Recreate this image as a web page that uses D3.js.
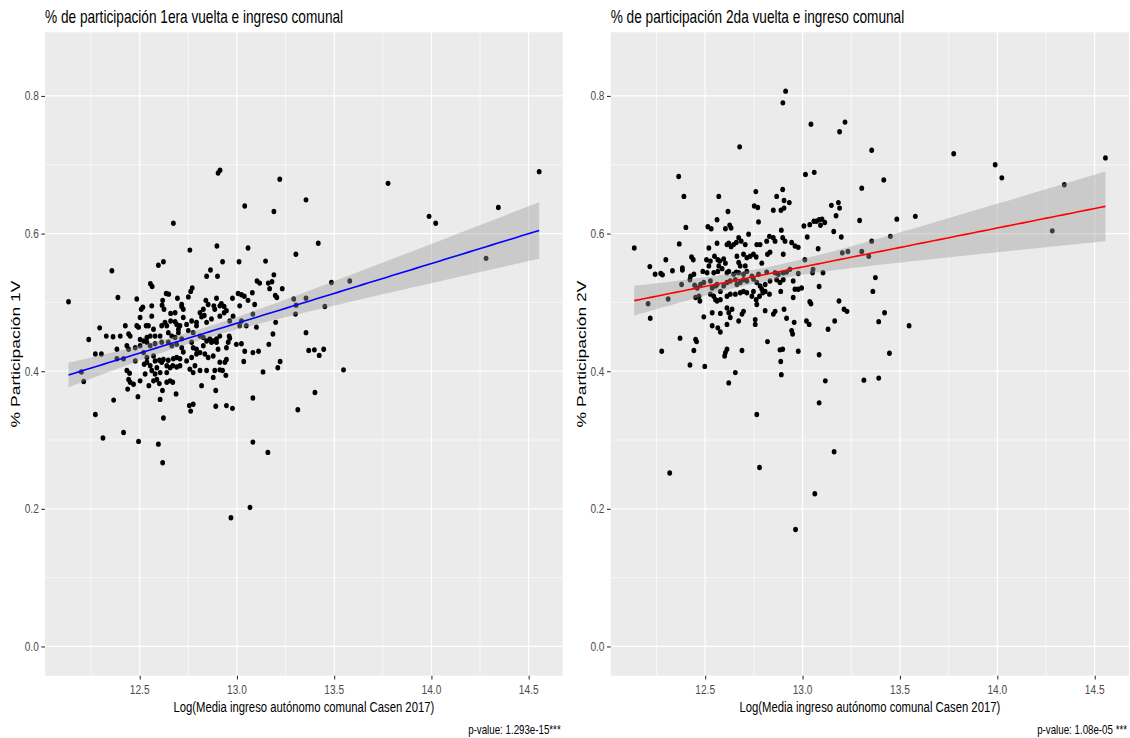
<!DOCTYPE html>
<html><head><meta charset="utf-8">
<script src="https://cdn.jsdelivr.net/npm/d3@7"></script>
<style>
body{margin:0;background:#fff}
text{font-family:"Liberation Sans",Arial,sans-serif}
</style>
</head><body>
<svg id="chart" width="1130" height="738"></svg>
<script>
const titles = ["% de participación 1era vuelta e ingreso comunal", "% de participación 2da vuelta e ingreso comunal"];
const yTitles = ["% Participación 1V", "% Participación 2V"];
const xTitle = "Log(Media ingreso autónomo comunal Casen 2017)";
const captions = ["p-value: 1.293e-15***", "p-value: 1.08e-05 ***"];
const lineColors = ["#0000FF", "#FF0000"];
const xTicks = [12.5, 13.0, 13.5, 14.0, 14.5];
const xMinor = [12.25, 12.75, 13.25, 13.75, 14.25];
const yTicks = [0.0, 0.2, 0.4, 0.6, 0.8];
const yMinor = [0.1, 0.3, 0.5, 0.7];
const yLimits = [0, 0.85];

// [log income, participation 1st round]
const points1V = [
[13.040,0.640],[13.190,0.632],[13.355,0.649],[12.673,0.615],
[12.758,0.576],[12.897,0.582],[13.057,0.579],[13.303,0.570],[12.596,0.554],[12.622,0.559],[12.926,0.559],[13.011,0.559],[13.147,0.560],[12.357,0.546],[12.864,0.547],
[12.844,0.538],[12.900,0.538],[13.103,0.531],[13.117,0.528],[13.190,0.540],[13.161,0.528],[13.180,0.530],[13.168,0.520],[13.233,0.520],[12.555,0.527],[12.564,0.523],[12.770,0.521],[12.762,0.516],[12.388,0.507],[12.485,0.505],[12.636,0.513],[12.649,0.512],[12.618,0.503],[12.694,0.506],[12.750,0.508],[12.840,0.503],[12.895,0.506],[12.977,0.506],[13.006,0.513],[13.023,0.511],[13.038,0.509],[13.079,0.514],[13.057,0.503],[13.197,0.510],[13.205,0.507],[13.292,0.505],[13.355,0.506],[12.134,0.501],[12.615,0.496],[12.716,0.497],[12.920,0.498],[12.852,0.497],[12.934,0.494],[13.014,0.495],[13.091,0.497],
[12.508,0.490],[12.516,0.493],[12.562,0.495],[12.625,0.490],[12.659,0.484],[12.682,0.485],[12.716,0.494],[12.724,0.490],[12.659,0.473],[12.682,0.472],[12.690,0.468],[12.630,0.471],[12.613,0.466],[12.639,0.466],[12.562,0.480],[12.502,0.478],[12.533,0.466],[12.545,0.466],[12.571,0.461],[12.810,0.485],[12.827,0.490],[12.818,0.479],[12.832,0.481],[12.886,0.490],[12.881,0.495],[12.912,0.495],[12.934,0.485],[12.946,0.488],[12.912,0.480],[12.963,0.473],[12.980,0.480],[12.869,0.476],[12.844,0.471],[12.792,0.471],[12.792,0.466],[12.775,0.456],[12.750,0.459],[12.724,0.478],[12.767,0.473],[12.741,0.468],[12.707,0.466],[12.699,0.461],[13.014,0.466],[13.023,0.473],[13.082,0.483],[13.048,0.466],[13.100,0.464],[13.199,0.471],[13.301,0.483],[13.304,0.496],[13.355,0.456],[13.185,0.454],[12.426,0.466],[12.485,0.466],[12.494,0.464],[12.294,0.463],[12.443,0.454],[12.451,0.451],[12.400,0.451],[12.363,0.450],[12.328,0.451],[12.238,0.446],[12.579,0.451],[12.554,0.451],[12.537,0.449],[12.605,0.451],[12.647,0.456],[12.665,0.451],[12.682,0.449],[12.699,0.456],[12.716,0.447],[12.810,0.451],[12.827,0.449],[12.861,0.447],[12.878,0.444],[12.895,0.447],[12.912,0.451],[12.960,0.451],[12.963,0.448],
[12.502,0.446],[12.520,0.444],[12.537,0.442],[12.434,0.437],[12.443,0.432],[12.477,0.434],[12.502,0.437],[12.554,0.437],[12.579,0.440],[12.613,0.442],[12.647,0.442],[12.665,0.437],[12.690,0.439],[12.716,0.434],[12.724,0.428],[12.767,0.442],[12.775,0.434],[12.792,0.432],[12.827,0.437],[12.844,0.444],[12.869,0.442],[12.895,0.442],[12.903,0.432],[12.946,0.434],[12.955,0.442],[12.997,0.439],[13.023,0.440],[13.082,0.427],[13.111,0.429],[13.040,0.429],[13.164,0.439],[13.369,0.430],[12.272,0.425],[12.303,0.425],[12.383,0.432],[12.383,0.418],[12.417,0.418],[12.477,0.415],[12.520,0.427],[12.537,0.420],[12.571,0.422],[12.579,0.415],[12.601,0.416],[12.622,0.417],[12.647,0.416],[12.673,0.418],[12.690,0.420],[12.670,0.408],[12.639,0.408],[12.613,0.413],[12.588,0.405],[12.554,0.408],[12.537,0.413],[12.523,0.410],[12.707,0.418],[12.741,0.415],[12.767,0.420],[12.792,0.425],[12.810,0.427],[12.835,0.425],[12.852,0.420],[12.878,0.422],[12.912,0.413],[12.938,0.413],[12.946,0.417],[13.035,0.414],[13.222,0.414],[13.210,0.405],[13.134,0.399],[12.200,0.399],[12.434,0.401],[12.448,0.397],[12.528,0.396],[12.562,0.401],[12.579,0.396],[12.605,0.398],[12.639,0.398],[12.656,0.405],[12.690,0.406],[12.707,0.408],[12.758,0.403],[12.775,0.398],[12.784,0.408],[12.810,0.401],[12.844,0.401],[12.886,0.401],[12.912,0.402],[12.926,0.401],[12.943,0.394],
[12.212,0.385],[12.443,0.388],[12.451,0.384],[12.438,0.374],[12.468,0.381],[12.502,0.386],[12.547,0.379],[12.571,0.386],[12.588,0.388],[12.601,0.382],[12.617,0.372],[12.639,0.384],[12.656,0.386],[12.670,0.384],[12.687,0.367],[12.605,0.359],[12.491,0.363],[12.366,0.358],[12.818,0.379],[12.878,0.391],[12.891,0.372],[13.082,0.361],[13.313,0.344],[12.755,0.350],[12.775,0.352],[12.762,0.342],[12.891,0.349],[12.946,0.350],[12.977,0.346],
[12.272,0.337],[12.622,0.332],[12.417,0.311],[12.311,0.303],[12.494,0.298],[12.596,0.294],[13.082,0.297],[13.159,0.282],[12.618,0.267],
[12.903,0.688],[12.913,0.692],[13.220,0.679],[12.969,0.187],[13.067,0.202],
[14.554,0.690],[13.777,0.673],[13.988,0.625],[14.022,0.615],[14.344,0.638],[13.418,0.586],[14.281,0.564],[13.486,0.529],[13.580,0.531],[13.452,0.494],[13.398,0.431],[13.423,0.423],[13.446,0.432],[13.548,0.402],[13.401,0.369]
];

// [log income, participation 2nd round]
const points2V = [
[12.913,0.807],[12.899,0.790],
[13.043,0.759],[13.190,0.748],[13.218,0.762],[12.677,0.726],[13.355,0.721],
[12.364,0.683],[13.015,0.686],[13.060,0.689],[12.391,0.654],[12.570,0.654],[12.760,0.661],[12.867,0.654],[12.898,0.664],[12.905,0.648],[12.932,0.645],[13.304,0.666],[13.148,0.641],[13.184,0.645],[13.190,0.637],
[12.617,0.632],[12.752,0.640],[12.770,0.638],[12.850,0.634],[12.889,0.634],[12.905,0.637],[12.561,0.620],[12.774,0.617],[12.401,0.609],[12.514,0.610],[12.531,0.607],[12.604,0.607],[12.626,0.612],[12.633,0.608],[13.007,0.611],[13.037,0.613],[13.058,0.618],[13.071,0.618],[13.085,0.620],[13.100,0.621],[13.092,0.612],[13.114,0.616],[13.172,0.626],[13.293,0.619],[13.160,0.603],[12.891,0.605],
[12.136,0.579],[12.367,0.585],[12.519,0.579],[12.561,0.586],[12.612,0.584],[12.621,0.586],[12.633,0.581],[12.646,0.584],[12.660,0.587],[12.672,0.594],[12.685,0.589],[12.706,0.584],[12.723,0.599],[12.765,0.584],[12.782,0.584],[12.816,0.589],[12.830,0.596],[12.850,0.594],[12.859,0.589],[12.898,0.594],[12.910,0.589],[12.944,0.587],[12.961,0.582],[12.978,0.580],[13.024,0.595],[13.080,0.578],[13.199,0.595],[13.204,0.572],[13.233,0.574],[13.304,0.574],[13.355,0.589],[12.833,0.573],[12.820,0.570],[12.901,0.570],[13.012,0.562],[12.430,0.566],[12.439,0.562],[12.507,0.562],[12.527,0.560],[12.548,0.567],[12.565,0.562],[12.575,0.560],[12.595,0.563],[12.604,0.557],[12.570,0.553],[12.519,0.553],[12.672,0.558],[12.663,0.567],[12.697,0.570],[12.714,0.565],[12.731,0.567],[12.748,0.570],[12.762,0.566],[12.791,0.557],[12.706,0.553],[12.680,0.553],[12.298,0.562],[12.216,0.552],[12.383,0.550],[12.383,0.547],[12.332,0.546],[12.243,0.541],[12.272,0.542],[12.281,0.540],[12.425,0.538],[12.442,0.541],[12.488,0.545],[12.510,0.543],[12.544,0.543],[12.565,0.545],[12.587,0.549],[12.612,0.543],[12.621,0.545],[12.646,0.541],[12.660,0.544],[12.672,0.543],[12.697,0.541],[12.714,0.545],[12.740,0.538],[12.774,0.541],[12.816,0.544],[12.859,0.543],[12.876,0.541],[12.901,0.543],[12.918,0.544],[12.935,0.548],[12.978,0.542],[13.051,0.543],[13.054,0.548],[13.105,0.543],[13.374,0.536],
[12.379,0.526],[12.422,0.533],[12.446,0.525],[12.459,0.521],[12.476,0.526],[12.493,0.529],[12.527,0.531],[12.536,0.521],[12.553,0.524],[12.561,0.526],[12.578,0.516],[12.595,0.524],[12.612,0.529],[12.629,0.531],[12.655,0.533],[12.663,0.526],[12.680,0.529],[12.697,0.533],[12.714,0.531],[12.748,0.534],[12.765,0.529],[12.782,0.524],[12.791,0.519],[12.808,0.526],[12.833,0.531],[12.867,0.533],[12.884,0.529],[12.901,0.533],[12.952,0.531],[12.961,0.519],[12.978,0.519],[12.995,0.521],[13.085,0.523],[12.451,0.507],[12.468,0.509],[12.473,0.502],[12.527,0.512],[12.544,0.509],[12.553,0.504],[12.561,0.502],[12.578,0.504],[12.612,0.509],[12.629,0.512],[12.655,0.512],[12.680,0.514],[12.697,0.516],[12.714,0.514],[12.740,0.509],[12.748,0.516],[12.762,0.504],[12.779,0.509],[12.796,0.514],[12.808,0.516],[12.830,0.512],[12.888,0.516],[12.952,0.507],[13.361,0.516],[12.310,0.505],[12.207,0.498],[13.187,0.502],[12.765,0.497],
[12.218,0.477],[12.493,0.479],[12.536,0.485],[12.578,0.484],[12.612,0.492],[12.621,0.485],[12.638,0.490],[12.629,0.478],[12.689,0.483],[12.672,0.473],[12.697,0.487],[12.612,0.468],[12.536,0.466],[12.565,0.463],[12.578,0.457],[12.757,0.475],[12.757,0.468],[12.808,0.488],[12.850,0.483],[12.859,0.487],[12.905,0.490],[12.918,0.477],[12.957,0.471],[13.020,0.473],[13.034,0.468],[13.037,0.501],[13.043,0.498],[13.131,0.461],[13.165,0.473],[13.213,0.490],[13.228,0.487],[13.391,0.472],[12.944,0.459],[12.949,0.454],
[12.371,0.448],[12.451,0.446],[12.456,0.443],[12.442,0.430],[12.277,0.429],[12.612,0.432],[12.604,0.427],[12.600,0.422],[12.689,0.430],[12.820,0.443],[12.884,0.431],[12.898,0.432],[12.978,0.429],[13.085,0.424],[12.888,0.414],[12.422,0.409],[12.498,0.407],[12.655,0.398],[12.621,0.383],[12.891,0.395],[13.117,0.386],[13.315,0.387],[13.391,0.390],[13.085,0.354],
[12.765,0.337],[13.162,0.283],[12.318,0.252],[12.779,0.260],[13.063,0.222],[12.964,0.170],
[13.417,0.678],[13.484,0.621],[13.579,0.625],[13.451,0.596],[13.340,0.567],[13.421,0.485],[13.547,0.466],[13.446,0.426],[13.776,0.716],[13.989,0.700],[14.023,0.681],[14.344,0.671],[14.555,0.710],[14.282,0.604]
];

const datasets = [points1V, points2V];
const svg = d3.select("#chart");
const panelTop = 32.3, panelBottom = 675.7;
const panelX = [[45, 562.7], [610.7, 1129]];
const squish = 0.78; // the reference image is horizontally compressed

// text placed at (x,y), horizontally compressed around its anchor point
function addText(parent, x, y, str, size, anchor, fill) {
  return parent.append("g").attr("transform", `translate(${x},${y}) scale(${squish},1)`)
    .append("text").attr("text-anchor", anchor).attr("fill", fill)
    .style("font-size", size + "px").text(str);
}

function fitLm(pts) {
  const n = pts.length;
  const mx = d3.mean(pts, d => d[0]), my = d3.mean(pts, d => d[1]);
  let sxx = 0, sxy = 0;
  pts.forEach(d => { sxx += (d[0]-mx)**2; sxy += (d[0]-mx)*(d[1]-my); });
  const b = sxy / sxx, a = my - b*mx;
  let sse = 0;
  pts.forEach(d => { sse += (d[1] - a - b*d[0])**2; });
  const s = Math.sqrt(sse / (n-2));
  const t = 1.968;
  const [x0, x1] = d3.extent(pts, d => d[0]);
  const grid = d3.range(0, 81).map(i => x0 + (x1-x0)*i/80);
  return grid.map(x => {
    const fit = a + b*x;
    const se = s*Math.sqrt(1/n + (x-mx)**2/sxx);
    return {x, fit, lo: fit - t*se, hi: fit + t*se};
  });
}

datasets.forEach((pts, i) => {
  const [L, R] = panelX[i];
  const ext = d3.extent(pts, d => d[0]);
  const pad = (ext[1]-ext[0])*0.05;
  const x = d3.scaleLinear().domain([ext[0]-pad, ext[1]+pad]).range([L, R]);
  const ypad = (yLimits[1]-yLimits[0])*0.05;
  const y = d3.scaleLinear().domain([yLimits[0]-ypad, yLimits[1]+ypad]).range([panelBottom, panelTop]);
  const g = svg.append("g");

  g.append("rect").attr("x", L).attr("y", panelTop).attr("width", R-L).attr("height", panelBottom-panelTop).attr("fill", "#EBEBEB");
  g.selectAll(".ymin").data(yMinor).join("line").attr("x1", L).attr("x2", R).attr("y1", d => y(d)).attr("y2", d => y(d)).attr("stroke", "#fff").attr("stroke-width", 0.6);
  g.selectAll(".xmin").data(xMinor).join("line").attr("y1", panelTop).attr("y2", panelBottom).attr("x1", d => x(d)).attr("x2", d => x(d)).attr("stroke", "#fff").attr("stroke-width", 0.6);
  g.selectAll(".ymaj").data(yTicks).join("line").attr("x1", L).attr("x2", R).attr("y1", d => y(d)).attr("y2", d => y(d)).attr("stroke", "#fff").attr("stroke-width", 1.2);
  g.selectAll(".xmaj").data(xTicks).join("line").attr("y1", panelTop).attr("y2", panelBottom).attr("x1", d => x(d)).attr("x2", d => x(d)).attr("stroke", "#fff").attr("stroke-width", 1.2);

  g.append("g").selectAll("ellipse").data(pts).join("ellipse")
    .attr("cx", d => x(d[0])).attr("cy", d => y(d[1])).attr("rx", 2.4).attr("ry", 2.7).attr("fill", "#000");

  const fit = fitLm(pts);
  g.append("path").datum(fit).attr("fill", "#999999").attr("fill-opacity", 0.4)
    .attr("d", d3.area().x(d => x(d.x)).y0(d => y(d.lo)).y1(d => y(d.hi)));
  g.append("path").datum(fit).attr("fill", "none").attr("stroke", lineColors[i]).attr("stroke-width", 1.6)
    .attr("d", d3.line().x(d => x(d.x)).y(d => y(d.fit)));

  // axes: tick marks from d3 axes, labels compressed like the reference
  const ya = g.append("g").attr("transform", `translate(${L},0)`)
    .call(d3.axisLeft(y).tickValues(yTicks).tickFormat("").tickSize(3.7));
  const xa = g.append("g").attr("transform", `translate(0,${panelBottom})`)
    .call(d3.axisBottom(x).tickValues(xTicks).tickFormat("").tickSize(3.7));
  [ya, xa].forEach(a => {
    a.select(".domain").remove();
    a.selectAll(".tick line").attr("stroke", "#333333").attr("stroke-width", 1.1);
  });
  const fmt = d3.format(".1f");
  yTicks.forEach(v => addText(g, L - 6.2, y(v) + 4.5, fmt(v), 13, "end", "#4D4D4D"));
  xTicks.forEach(v => addText(g, x(v), panelBottom + 18.6, fmt(v), 13, "middle", "#4D4D4D"));

  addText(g, L, 22.5, titles[i], 17.5, "start", "#000");
  g.append("g").attr("transform", `translate(${L-25},${(panelTop+panelBottom)/2}) scale(${squish},1)`)
    .append("text").attr("transform", "rotate(-90)")
    .attr("text-anchor", "middle").attr("fill", "#000").style("font-size", "17.5px").text(yTitles[i]);
  addText(g, (L+R)/2, 712, xTitle, 14.5, "middle", "#000");
  addText(g, R - 2, 733.5, captions[i], 12.5, "end", "#000");
});
</script>
</body></html>
